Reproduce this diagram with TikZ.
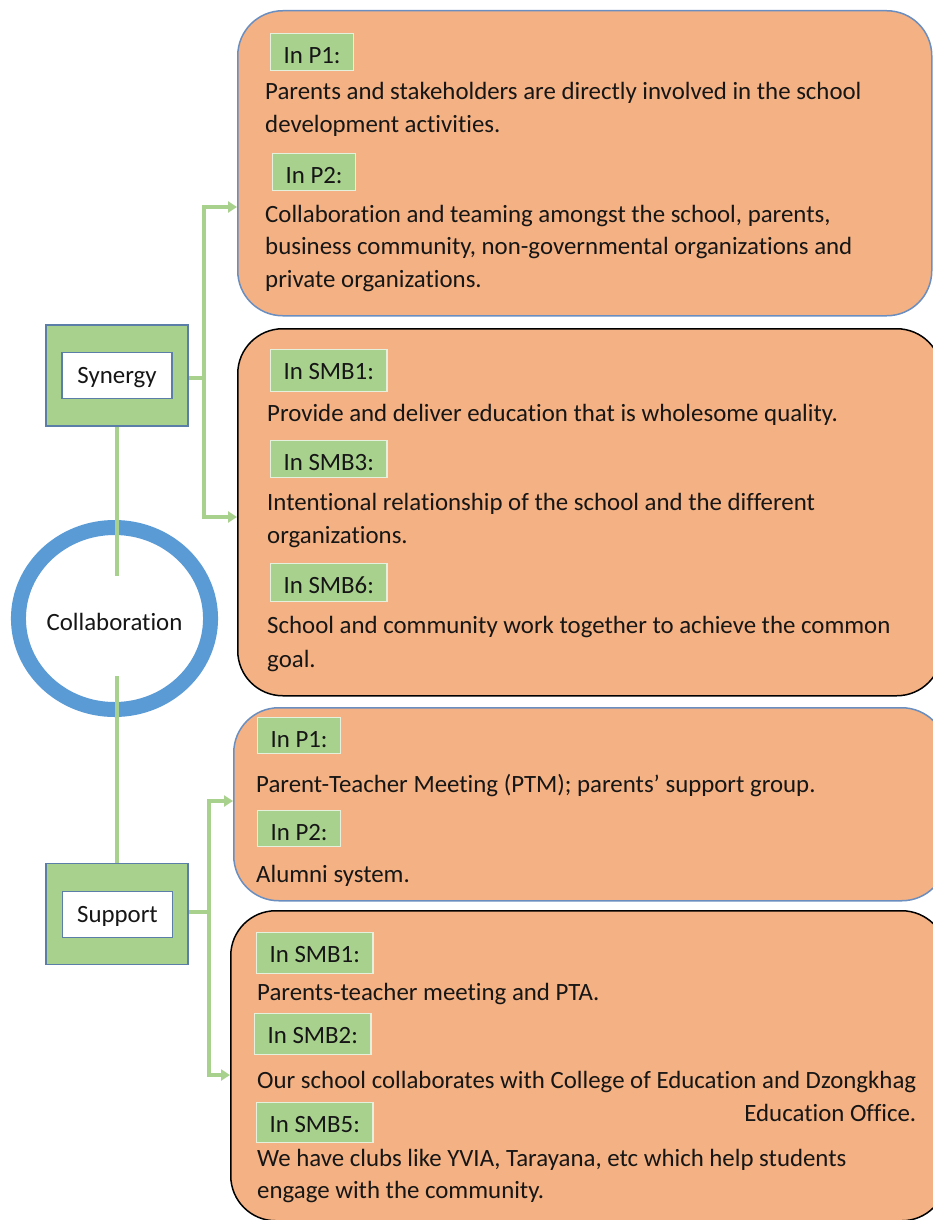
\documentclass[tikz,border=0pt]{standalone}
\usepackage{fontspec}
\setmainfont{Carlito}[Ligatures=NoCommon]
\usetikzlibrary{arrows.meta,shapes.geometric}
\definecolor{peach}{HTML}{F4B183}
\definecolor{leaf}{HTML}{A9D18E}
\definecolor{ringblue}{HTML}{5B9BD5}
\definecolor{panelblue}{HTML}{6A8EBF}
\definecolor{boxedge}{HTML}{5A7EA8}
\definecolor{ink}{HTML}{161616}
\begin{document}
\begin{tikzpicture}[x=1pt,y=-1pt,
  % multi-line text nodes are placed by the baseline of their last line
  txt/.style={font=\fontsize{24.85}{32.5}\selectfont, text=ink, inner sep=0pt, align=left, anchor=base west},
  panel/.style={rectangle, rounded corners=45pt, fill=peach, line width=1.5pt, anchor=north west, inner sep=0pt},
  lab/.style={fill=leaf, draw=white!70!leaf, line width=1.2pt, anchor=north west,
    font=\fontsize{24.85}{28}\selectfont, text=ink, inner xsep=13pt, inner ysep=0pt,
    text height=30pt, text depth=#1},
  lab/.default=8pt,
  outerbox/.style={rectangle, fill=leaf, draw=boxedge, line width=1.2pt, minimum width=142pt, minimum height=101pt, inner sep=0pt},
  innerbox/.style={rectangle, fill=white, draw=boxedge, line width=1.2pt, minimum width=110pt, minimum height=46pt, inner sep=0pt,
    font=\fontsize{24.85}{28}\selectfont, text=ink, text height=16pt, text depth=0pt},
  link/.style={draw=leaf, line width=3.5pt},
  tip/.style={-{Triangle[length=9pt,width=11pt]}}
]
\useasboundingbox (0,0) rectangle (932,1220);
\fill[white] (0,0) rectangle (932,1220);

% panels on the right
\node[panel, draw=panelblue, minimum width=694pt, minimum height=305pt] (b1) at (237,10) {};
\node[panel, draw=black, minimum width=704pt, minimum height=367pt] (b2) at (237,328) {};
\node[panel, draw=panelblue, minimum width=713pt, minimum height=193pt] (b3) at (233,707) {};
\node[panel, draw=black, minimum width=716pt, minimum height=310pt] (b4) at (230,910) {};

% panel 1
\node[lab=7pt] (l1a) at (270,33) {In P1:};
\node[txt] (t1a) at (265,132) {Parents and stakeholders are directly involved in the school\\development activities.};
\node[lab=7pt] (l1b) at (272,153) {In P2:};
\node[txt] (t1b) at (265,287) {Collaboration and teaming amongst the school, parents,\\business community, non-governmental organizations and\\private organizations.};

% panel 2
\node[lab=12pt] (l2a) at (270,349) {In SMB1:};
\node[txt] (t2a) at (267,421.7) {Provide and deliver education that is wholesome quality.};
\node[lab=7pt] (l2b) at (270,440) {In SMB3:};
\node[txt] (t2b) at (267,543) {Intentional relationship of the school and the different\\organizations.};
\node[lab=8pt] (l2c) at (270,563) {In SMB6:};
\node[txt, font=\fontsize{24.85}{34}\selectfont] (t2c) at (267,667) {School and community work together to achieve the common\\goal.};

% panel 3
\node[lab=6pt] (l3a) at (257,717) {In P1:};
\node[txt] (t3a) at (256,792) {Parent-Teacher Meeting (PTM); parents’ support group.};
\node[lab=6pt] (l3b) at (257,810) {In P2:};
\node[txt] (t3b) at (256,882) {Alumni system.};

% panel 4
\node[lab=11pt] (l4a) at (256,932) {In SMB1:};
\node[txt] (t4a) at (257,1000) {Parents-teacher meeting and PTA.};
\node[lab=11pt] (l4b) at (254,1013) {In SMB2:};
\node[txt, align=right] (t4b) at (257,1121) {Our school collaborates with College of Education and Dzongkhag\\Education Office.};
\node[lab=10pt] (l4c) at (256,1102) {In SMB5:};
\node[txt, font=\fontsize{24.85}{31.5}\selectfont] (t4c) at (257,1198) {We have clubs like YVIA, Tarayana, etc which help students\\engage with the community.};

% central ring
\node[ellipse, draw=ringblue, line width=15pt, fill=white, minimum width=190pt, minimum height=182pt,
  font=\fontsize{24.85}{28}\selectfont, text=ink, text height=23pt, text depth=0pt, inner sep=0pt] (collab) at (114.5,618.5) {Collaboration};

% theme boxes
\node[outerbox] (syn) at (117,375.5) {};
\node[innerbox] (synt) at (syn.center) {Synergy};
\node[outerbox] (sup) at (117,914) {};
\node[innerbox] (supt) at (117.5,914.5) {Support};

% connectors
\coordinate (cin1) at (117,576);
\coordinate (cin2) at (117,676);
\draw[link] (syn.south) -- (cin1);
\draw[link] (cin2) -- (sup.north);

\coordinate (synj) at (204,378);
\coordinate (b1in) at (237,207);
\coordinate (b2in) at (237,517);
\draw[link] (syn.east |- synj) -- (synj);
\draw[link, tip, leaf] (synj) |- (b1in);
\draw[link, tip, leaf] (synj) |- (b2in);

\coordinate (supj) at (209,912);
\coordinate (b3in) at (233,801);
\coordinate (b4in) at (230,1075);
\draw[link] (sup.east |- supj) -- (supj);
\draw[link, tip, leaf] (supj) |- (b3in);
\draw[link, tip, leaf] (supj) |- (b4in);
\end{tikzpicture}
\end{document}
